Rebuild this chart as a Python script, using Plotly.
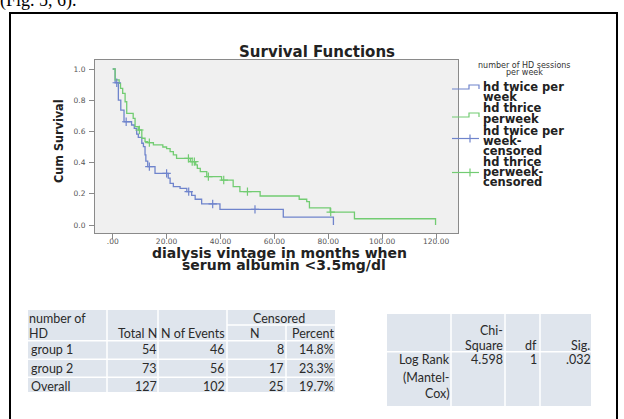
import plotly.graph_objects as go

W, H = 624, 419

# ---------------- data ----------------
t_blue = [0, 0.9, 2.1, 3.0, 4.2, 7.0, 8.0, 8.9, 9.5, 10.8, 11.4, 12.0, 12.3, 13.0, 15.7, 20.6, 21.3,
          22.5, 25.0, 27.5, 29.3, 30.6, 33.0, 39.8, 63.3, 81.9]
s_blue = [1.0, 0.912, 0.80, 0.737, 0.662, 0.641, 0.62, 0.583, 0.562, 0.524, 0.502, 0.449, 0.41, 0.374,
          0.331, 0.30, 0.267, 0.246, 0.235, 0.214, 0.19, 0.165, 0.135, 0.10, 0.05, 0.0]
cens_t_blue = [1.5, 5.0, 13.6, 20.0, 28.2, 37.1, 52.8]
cens_s_blue = [0.912, 0.662, 0.374, 0.331, 0.214, 0.135, 0.10]

t_green = [0, 0.9, 2.4, 2.9, 3.7, 4.6, 5.2, 7.6, 8.3, 9.5, 10.8, 12.0, 13.0, 15.1, 18.6, 20.0, 21.3,
           22.5, 23.7, 28.8, 30.8, 31.4, 32.5, 34.9, 40.4, 44.7, 47.2, 54.7, 69.2, 72.0, 73.0, 80.7,
           89.7, 119.8]
s_green = [1.0, 0.93, 0.908, 0.876, 0.844, 0.79, 0.716, 0.684, 0.63, 0.609, 0.556, 0.534, 0.528,
           0.513, 0.50, 0.49, 0.47, 0.449, 0.427, 0.406, 0.385, 0.363, 0.342, 0.31, 0.288, 0.246,
           0.214, 0.186, 0.165, 0.15, 0.11, 0.083, 0.04, 0.0]
cens_t_green = [9.9, 13.6, 28.1, 29.5, 30.3, 35.5, 41.2, 50.0, 80.9]
cens_s_green = [0.609, 0.528, 0.427, 0.406, 0.406, 0.31, 0.288, 0.214, 0.083]

x_tickvals = [0, 20, 40, 60, 80, 100, 120]
x_ticktext = ['.00', '20.00', '40.00', '60.00', '80.00', '100.00', '120.00']
y_tickvals = [0, 0.2, 0.4, 0.6, 0.8, 1.0]
y_ticktext = ['0.0', '0.2', '0.4', '0.6', '0.8', '1.0']

chart_title = "Survival Functions"
x_title_lines = ["dialysis vintage in months when", "serum albumin <3.5mg/dl"]
y_title = "Cum Survival"
legend_title_lines = ["number of HD sessions", "per week"]
legend_entries = [
    ["hd twice per", "week"],
    ["hd thrice", "perweek"],
    ["hd twice per", "week-", "censored"],
    ["hd thrice", "perweek-", "censored"],
]

t1_head_row1 = ["number of", "", "", "Censored"]
t1_head_row2 = ["HD", "Total N", "N of Events", "N", "Percent"]
t1_rows = [
    ["group 1", "54", "46", "8", "14.8%"],
    ["group 2", "73", "56", "17", "23.3%"],
    ["Overall", "127", "102", "25", "19.7%"],
]
t2_head = [["", "Chi-", "", ""], ["", "Square", "df", "Sig."]]
t2_row = [["Log Rank", "(Mantel-", "Cox)"], ["4.598"], ["1"], [".032"]]

top_text = "(Fig. 5, 6)."

BLUE = "#6f84cc"
GREEN = "#72cc72"

# ---------------- helpers ----------------
def px(x):
    return x / W


def py(y):
    return 1 - y / H


shapes = []
annotations = []


def text(x, y, s, size, family="DejaVu Sans", color="#222", anchor="left", bold=False, angle=0):
    annotations.append(dict(
        x=px(x), y=py(y), xref="paper", yref="paper", text=("<b>%s</b>" % s) if bold else s,
        showarrow=False, xanchor=anchor, yanchor="middle", textangle=angle,
        font=dict(size=size, family=family, color=color), borderpad=0, borderwidth=0))


def rect(x0, y0, x1, y1, fill=None, line=None, lw=1):
    shapes.append(dict(type="rect", xref="paper", yref="paper", x0=px(x0), x1=px(x1), y0=py(y1), y1=py(y0),
                       fillcolor=fill if fill else "rgba(0,0,0,0)",
                       line=dict(color=line if line else "rgba(0,0,0,0)", width=lw if line else 0),
                       layer="below"))


def seg(x0, y0, x1, y1, color, lw=1, layer="above"):
    shapes.append(dict(type="line", xref="paper", yref="paper", x0=px(x0), x1=px(x1), y0=py(y0), y1=py(y1),
                       line=dict(color=color, width=lw), layer=layer))


def path(pts, color, lw=1.2):
    d = "M " + " L ".join("%f,%f" % (px(a), py(b)) for a, b in pts)
    shapes.append(dict(type="path", xref="paper", yref="paper", path=d, line=dict(color=color, width=lw)))


# ---------------- figure ----------------
fig = go.Figure()
fig.add_trace(go.Scatter(x=t_blue, y=s_blue, mode="lines", line=dict(color=BLUE, width=1.3, shape="hv"),
                         showlegend=False, hoverinfo="skip"))
fig.add_trace(go.Scatter(x=t_green, y=s_green, mode="lines", line=dict(color=GREEN, width=1.3, shape="hv"),
                         showlegend=False, hoverinfo="skip"))
fig.add_trace(go.Scatter(x=cens_t_blue, y=cens_s_blue, mode="markers",
                         marker=dict(symbol="cross-thin", size=6, line=dict(color=BLUE, width=1.2)),
                         showlegend=False, hoverinfo="skip"))
fig.add_trace(go.Scatter(x=cens_t_green, y=cens_s_green, mode="markers",
                         marker=dict(symbol="cross-thin", size=6, line=dict(color=GREEN, width=1.2)),
                         showlegend=False, hoverinfo="skip"))

# outer document frame
rect(10, 13, 617, 440, line="#000", lw=2)

# top cut text
text(0, 0, top_text, 18, family="Liberation Serif", color="#000")

# chart texts
text(317, 52, chart_title, 15, bold=True, anchor="center")
text(58, 141, y_title, 12.5, family="'Liberation Sans Narrow', 'DejaVu Sans Condensed', 'Arial Narrow', sans-serif",
     bold=True, anchor="center", angle=-90)
text(279, 253, x_title_lines[0], 14, bold=True, anchor="center")
text(284, 265, x_title_lines[1], 14, bold=True, anchor="center")

# legend
text(524, 65.5, legend_title_lines[0], 8, anchor="center", color="#333")
text(524, 72, legend_title_lines[1], 8, anchor="center", color="#333")
leg_y = [[86.7, 96.5], [108.3, 118.5], [131, 141, 151], [162.3, 172.3, 182]]
for lines, ys in zip(legend_entries, leg_y):
    for s, yy in zip(lines, ys):
        text(483, yy, s, 11.5, bold=True, color="#222")
path([(452, 89), (469, 89), (469, 85), (479, 85), (479, 89)], BLUE)
path([(452, 117), (469, 117), (469, 113), (479, 113), (479, 117)], GREEN)
seg(452, 138.5, 479, 138.5, BLUE, 1.2)
seg(470, 134.5, 470, 142.5, BLUE, 1.2)
seg(452, 172.5, 479, 172.5, GREEN, 1.2)
seg(470, 168.5, 470, 176.5, GREEN, 1.2)

# ---------------- table 1 ----------------
TB = "#dfe5ed"
TF = "Lato"
TC = "#2a2a2a"
FS = 12.5
rect(28, 310, 335, 392, fill=TB)
for xv in [107, 158, 227]:
    seg(xv, 310, xv, 392, "#fff", 1.5, "below")
seg(286, 325, 286, 392, "#fff", 1.5, "below")
seg(227, 325, 335, 325, "#fff", 1.5, "below")
for yv in [340.7, 359.3, 377.3]:
    seg(28, yv, 335, yv, "#fff", 1.5, "below")
text(29, 318, t1_head_row1[0], FS, family=TF, color=TC)
text(279, 318, t1_head_row1[3], FS, family=TF, color=TC, anchor="center")
text(29, 333, t1_head_row2[0], FS, family=TF, color=TC)
text(157, 333, t1_head_row2[1], FS, family=TF, color=TC, anchor="right")
text(225, 333, t1_head_row2[2], FS, family=TF, color=TC, anchor="right")
text(255, 333, t1_head_row2[3], FS, family=TF, color=TC, anchor="center")
text(334, 333, t1_head_row2[4], FS, family=TF, color=TC, anchor="right")
row_y = [349, 368, 386]
col_r = [157, 225, 284, 334]
for r, yy in zip(t1_rows, row_y):
    text(31, yy, r[0], FS, family=TF, color=TC)
    for v, xr in zip(r[1:], col_r):
        text(xr, yy, v, FS, family=TF, color=TC, anchor="right")

# ---------------- table 2 ----------------
rect(387, 314, 591, 406, fill=TB)
for xv in [451, 505, 540]:
    seg(xv, 314, xv, 406, "#fff", 1.5, "below")
seg(387, 351.7, 591, 351.7, "#fff", 1.5, "below")
text(503, 330, t2_head[0][1], FS, family=TF, color=TC, anchor="right")
text(503, 345, t2_head[1][1], FS, family=TF, color=TC, anchor="right")
text(537, 345, t2_head[1][2], FS, family=TF, color=TC, anchor="right")
text(590, 345, t2_head[1][3], FS, family=TF, color=TC, anchor="right")
for s, yy in zip(t2_row[0], [359, 377, 393]):
    text(450, yy, s, FS, family=TF, color=TC, anchor="right")
text(503, 359, t2_row[1][0], FS, family=TF, color=TC, anchor="right")
text(537, 359, t2_row[2][0], FS, family=TF, color=TC, anchor="right")
text(591, 359, t2_row[3][0], FS, family=TF, color=TC, anchor="right")

AX = "#8a8a8a"
fig.update_layout(
    width=W, height=H, autosize=False,
    margin=dict(l=0, r=0, t=0, b=0, autoexpand=False),
    paper_bgcolor="#ffffff", plot_bgcolor="#f0f0f0",
    shapes=shapes, annotations=annotations,
    showlegend=False,
    xaxis=dict(domain=[px(95), px(458)], range=[-6.57, 128.13], tickvals=x_tickvals, ticktext=x_ticktext,
               showgrid=False, zeroline=False, showline=True, mirror=True, linecolor=AX, linewidth=1,
               ticks="outside", ticklen=5, tickcolor=AX, automargin=False, ticklabelstandoff=-4,
               tickfont=dict(family="DejaVu Sans", size=7.5, color="#555")),
    yaxis=dict(domain=[py(233), py(60)], range=[-0.0513, 1.0577], tickvals=y_tickvals, ticktext=y_ticktext,
               showgrid=False, zeroline=False, showline=True, mirror=True, linecolor=AX, linewidth=1,
               ticks="outside", ticklen=5, tickcolor=AX, automargin=False, ticklabelstandoff=2,
               tickfont=dict(family="DejaVu Sans", size=7.5, color="#555")),
)

fig.write_html("out.html", config={"displayModeBar": False},
               post_script="document.body.style.margin='0';document.body.style.overflow='hidden';")
